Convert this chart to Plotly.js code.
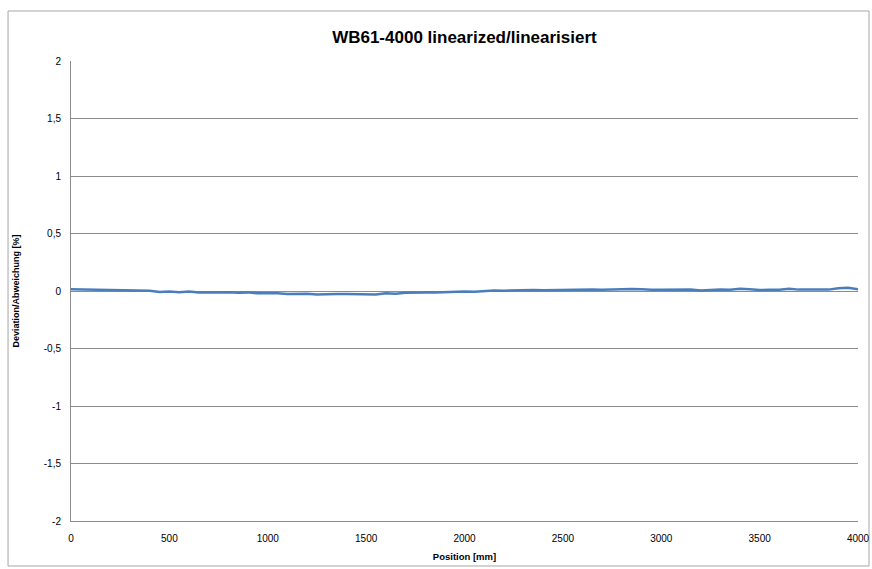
<!DOCTYPE html>
<html>
<head>
<meta charset="utf-8">
<script src="https://cdn.plot.ly/plotly-3.0.1.min.js"></script>
<style>html,body{margin:0;padding:0;background:#fff;}#chart{width:872px;height:569px;}</style>
</head>
<body>
<div id="chart"></div>
<script>
const titleText = "WB61-4000 linearized/linearisiert";
const xTitle = "Position [mm]";
const yTitle = "Deviation/Abweichung [%]";
const positions = [0,50,100,150,200,250,300,350,400,450,500,550,600,650,700,750,800,850,900,950,
  1000,1050,1100,1150,1200,1250,1300,1350,1400,1450,1500,1550,1600,1650,1700,1750,1800,1850,1900,1950,
  2000,2050,2100,2150,2200,2250,2300,2350,2400,2450,2500,2550,2600,2650,2700,2750,2800,2850,2900,2950,
  3000,3050,3100,3150,3200,3250,3300,3350,3400,3450,3500,3550,3600,3650,3700,3750,3800,3850,3900,3950,4000];
const deviation = [0.015,0.014,0.013,0.012,0.010,0.009,0.007,0.005,0.003,-0.008,-0.005,-0.010,-0.004,-0.012,-0.010,-0.013,-0.011,-0.016,-0.012,-0.020,
  -0.018,-0.019,-0.027,-0.026,-0.024,-0.030,-0.026,-0.025,-0.026,-0.027,-0.027,-0.030,-0.020,-0.024,-0.016,-0.018,-0.014,-0.014,-0.010,-0.010,
  -0.004,-0.006,0.000,0.004,0.003,0.006,0.005,0.008,0.006,0.008,0.009,0.010,0.008,0.012,0.010,0.014,0.012,0.018,0.016,0.010,
  0.011,0.012,0.013,0.012,0.004,0.010,0.013,0.011,0.020,0.016,0.008,0.010,0.011,0.020,0.012,0.013,0.015,0.012,0.024,0.028,0.015];
const xTicks = [0,500,1000,1500,2000,2500,3000,3500,4000];
const yTicks = [-2,-1.5,-1,-0.5,0,0.5,1,1.5,2];
const yTickText = ["-2","-1,5","-1","-0,5","0","0,5","1","1,5","2"];

const trace = {
  x: positions, y: deviation, type: 'scatter', mode: 'lines',
  line: {color: '#4a7ebb', width: 2.5}, hoverinfo: 'skip'
};
const layout = {
  width: 872, height: 569,
  margin: {l: 71, r: 14, t: 61, b: 48},
  paper_bgcolor: '#fff', plot_bgcolor: '#fff',
  showlegend: false,
  font: {family: 'Liberation Sans, Arial, sans-serif', size: 10, color: '#000'},
  title: {text: '<b>' + titleText + '</b>', font: {size: 17, color: '#000'}, x: 0.5326, xanchor: 'center', y: 0.935, yanchor: 'middle'},
  xaxis: {
    range: [0, 4000], tickvals: xTicks, ticktext: xTicks.map(String),
    showgrid: false, zeroline: false, showline: true, linecolor: '#8c8c8c', linewidth: 1,
    ticks: '', tickfont: {size: 10}, ticklabelstandoff: 8,
    title: {text: '<b>' + xTitle + '</b>', font: {size: 9.5}, standoff: 10}
  },
  yaxis: {
    range: [-2, 2], tickvals: yTicks, ticktext: yTickText,
    showgrid: true, gridcolor: '#8c8c8c', gridwidth: 1,
    zeroline: false, showline: true, linecolor: '#8c8c8c', linewidth: 1,
    ticks: '', tickfont: {size: 10}, ticklabelstandoff: 7,
    title: {text: '<b>' + yTitle + '</b>', font: {size: 9}, standoff: 22}
  },
  shapes: [{
    type: 'rect', xref: 'paper', yref: 'paper',
    x0: -0.0800, x1: 1.0140, y0: -0.0978, y1: 1.1087,
    line: {color: '#a6a6a6', width: 1}, fillcolor: 'rgba(0,0,0,0)', layer: 'below'
  }]
};
Plotly.newPlot('chart', [trace], layout, {staticPlot: true, displayModeBar: false});
</script>
</body>
</html>
